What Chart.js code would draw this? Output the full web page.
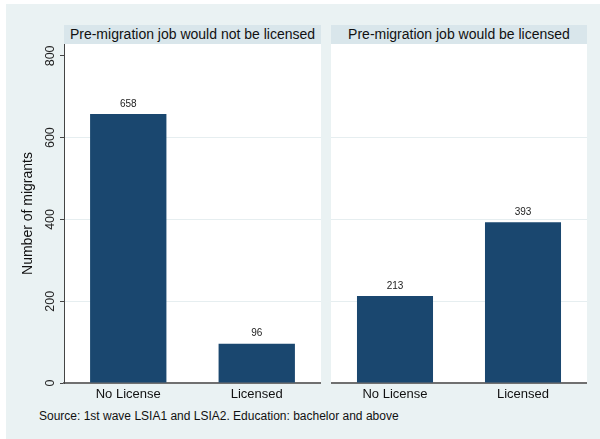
<!DOCTYPE html>
<html>
<head>
<meta charset="utf-8">
<script src="https://cdn.jsdelivr.net/npm/chart.js@4.4.1/dist/chart.umd.min.js"></script>
<style>
  body { margin: 0; background: #fff; width: 600px; height: 439px; overflow: hidden; position: relative;
         font-family: "Liberation Sans", Arial, sans-serif; }
  #graph { position: absolute; left: 6px; top: 4px; width: 594px; height: 435px; background: #eaf2f3; }
  .strip { position: absolute; top: 25px; height: 19px; line-height: 19px; background: #d9e6eb;
           font-size: 14px; text-align: center; color: #111; white-space: nowrap; }
  canvas { position: absolute; top: 44px; }
  #note { position: absolute; left: 39px; top: 409px; font-size: 12px; color: #111; white-space: nowrap; }
</style>
</head>
<body>
<div id="graph"></div>
<div class="strip" style="left:64px;width:257px;">Pre-migration job would not be licensed</div>
<div class="strip" style="left:331px;width:256px;">Pre-migration job would be licensed</div>
<canvas id="c1" width="315" height="361" style="left:6px"></canvas>
<canvas id="c2" width="256" height="361" style="left:331px"></canvas>
<div id="note">Source: 1st wave LSIA1 and LSIA2. Education: bachelor and above</div>

<script>
// ================= DATA =================
const categories = ["No License", "Licensed"];
const notLicensedJob = [658, 96];   // pre-migration job would not be licensed
const licensedJob = [213, 393];     // pre-migration job would be licensed
const yTicks = [0, 200, 400, 600, 800];
const yTitle = "Number of migrants";

// ================= STYLE =================
const FONT = '"Liberation Sans", Arial, sans-serif';
const BAR = "#1a476f";
const GRID = "#e6eef0";

// white plot region
const plotBg = {
  id: "plotBg",
  beforeDraw(chart) {
    const a = chart.chartArea;
    chart.ctx.save();
    chart.ctx.fillStyle = "#fff";
    chart.ctx.fillRect(a.left, a.top, a.right - a.left, a.bottom - a.top);
    chart.ctx.restore();
  }
};

// numbers above bars
const barLabels = {
  id: "barLabels",
  afterDatasetsDraw(chart) {
    const c = chart.ctx;
    const ds = chart.data.datasets[0];
    c.save();
    c.font = "10px " + FONT;
    c.fillStyle = "#222";
    c.textAlign = "center";
    c.textBaseline = "middle";
    chart.getDatasetMeta(0).data.forEach((bar, i) => {
      c.fillText(String(ds.data[i]), bar.x, bar.y - 10);
    });
    c.restore();
  }
};

// vertical y tick labels (Stata style)
const yLabels = {
  id: "yLabels",
  afterDraw(chart) {
    const y = chart.scales.y;
    if (!chart.options.scales.y.title.display) return;
    const c = chart.ctx;
    c.save();
    c.font = "12.5px " + FONT;
    c.fillStyle = "#222";
    c.textAlign = "center";
    c.textBaseline = "middle";
    y.ticks.forEach(t => {
      c.save();
      c.translate(y.right - 13, y.getPixelForValue(t.value));
      c.rotate(-Math.PI / 2);
      c.fillText(String(t.value), 0, 0);
      c.restore();
    });
    c.restore();
  }
};

function makeChart(id, values, withAxis) {
  return new Chart(document.getElementById(id), {
    type: "bar",
    data: {
      labels: categories,
      datasets: [{
        data: values,
        backgroundColor: BAR,
        barPercentage: 0.594,
        categoryPercentage: 1
      }]
    },
    options: {
      responsive: false,
      animation: false,
      layout: { padding: 0, autoPadding: false },
      plugins: { legend: { display: false }, tooltip: { enabled: false } },
      scales: {
        x: {
          grid: { display: false, drawTicks: false },
          border: { display: true, color: "#707070", width: 2 },
          ticks: { color: "#111", font: { family: FONT, size: 13 }, padding: 4 },
          afterFit: s => { s.height = 22; }
        },
        y: {
          min: 0,
          max: 829,
          afterBuildTicks: s => { s.ticks = yTicks.map(v => ({ value: v })); },
          grid: {
            color: ctx => (ctx.tick && ctx.tick.value > 0 && ctx.tick.value < 800) ? GRID : "rgba(0,0,0,0)",
            tickColor: withAxis ? "#444" : "rgba(0,0,0,0)",
            drawTicks: withAxis,
            tickLength: 4
          },
          border: { display: withAxis, color: "#444", width: 1 },
          ticks: { display: false },
          title: {
            display: withAxis,
            text: yTitle,
            color: "#111",
            font: { family: FONT, size: 14 },
            padding: { top: 14, bottom: 0 }
          },
          afterFit: s => { s.width = withAxis ? 58 : 0; }
        }
      }
    },
    plugins: [plotBg, barLabels, yLabels]
  });
}

makeChart("c1", notLicensedJob, true);
makeChart("c2", licensedJob, false);
</script>
</body>
</html>
